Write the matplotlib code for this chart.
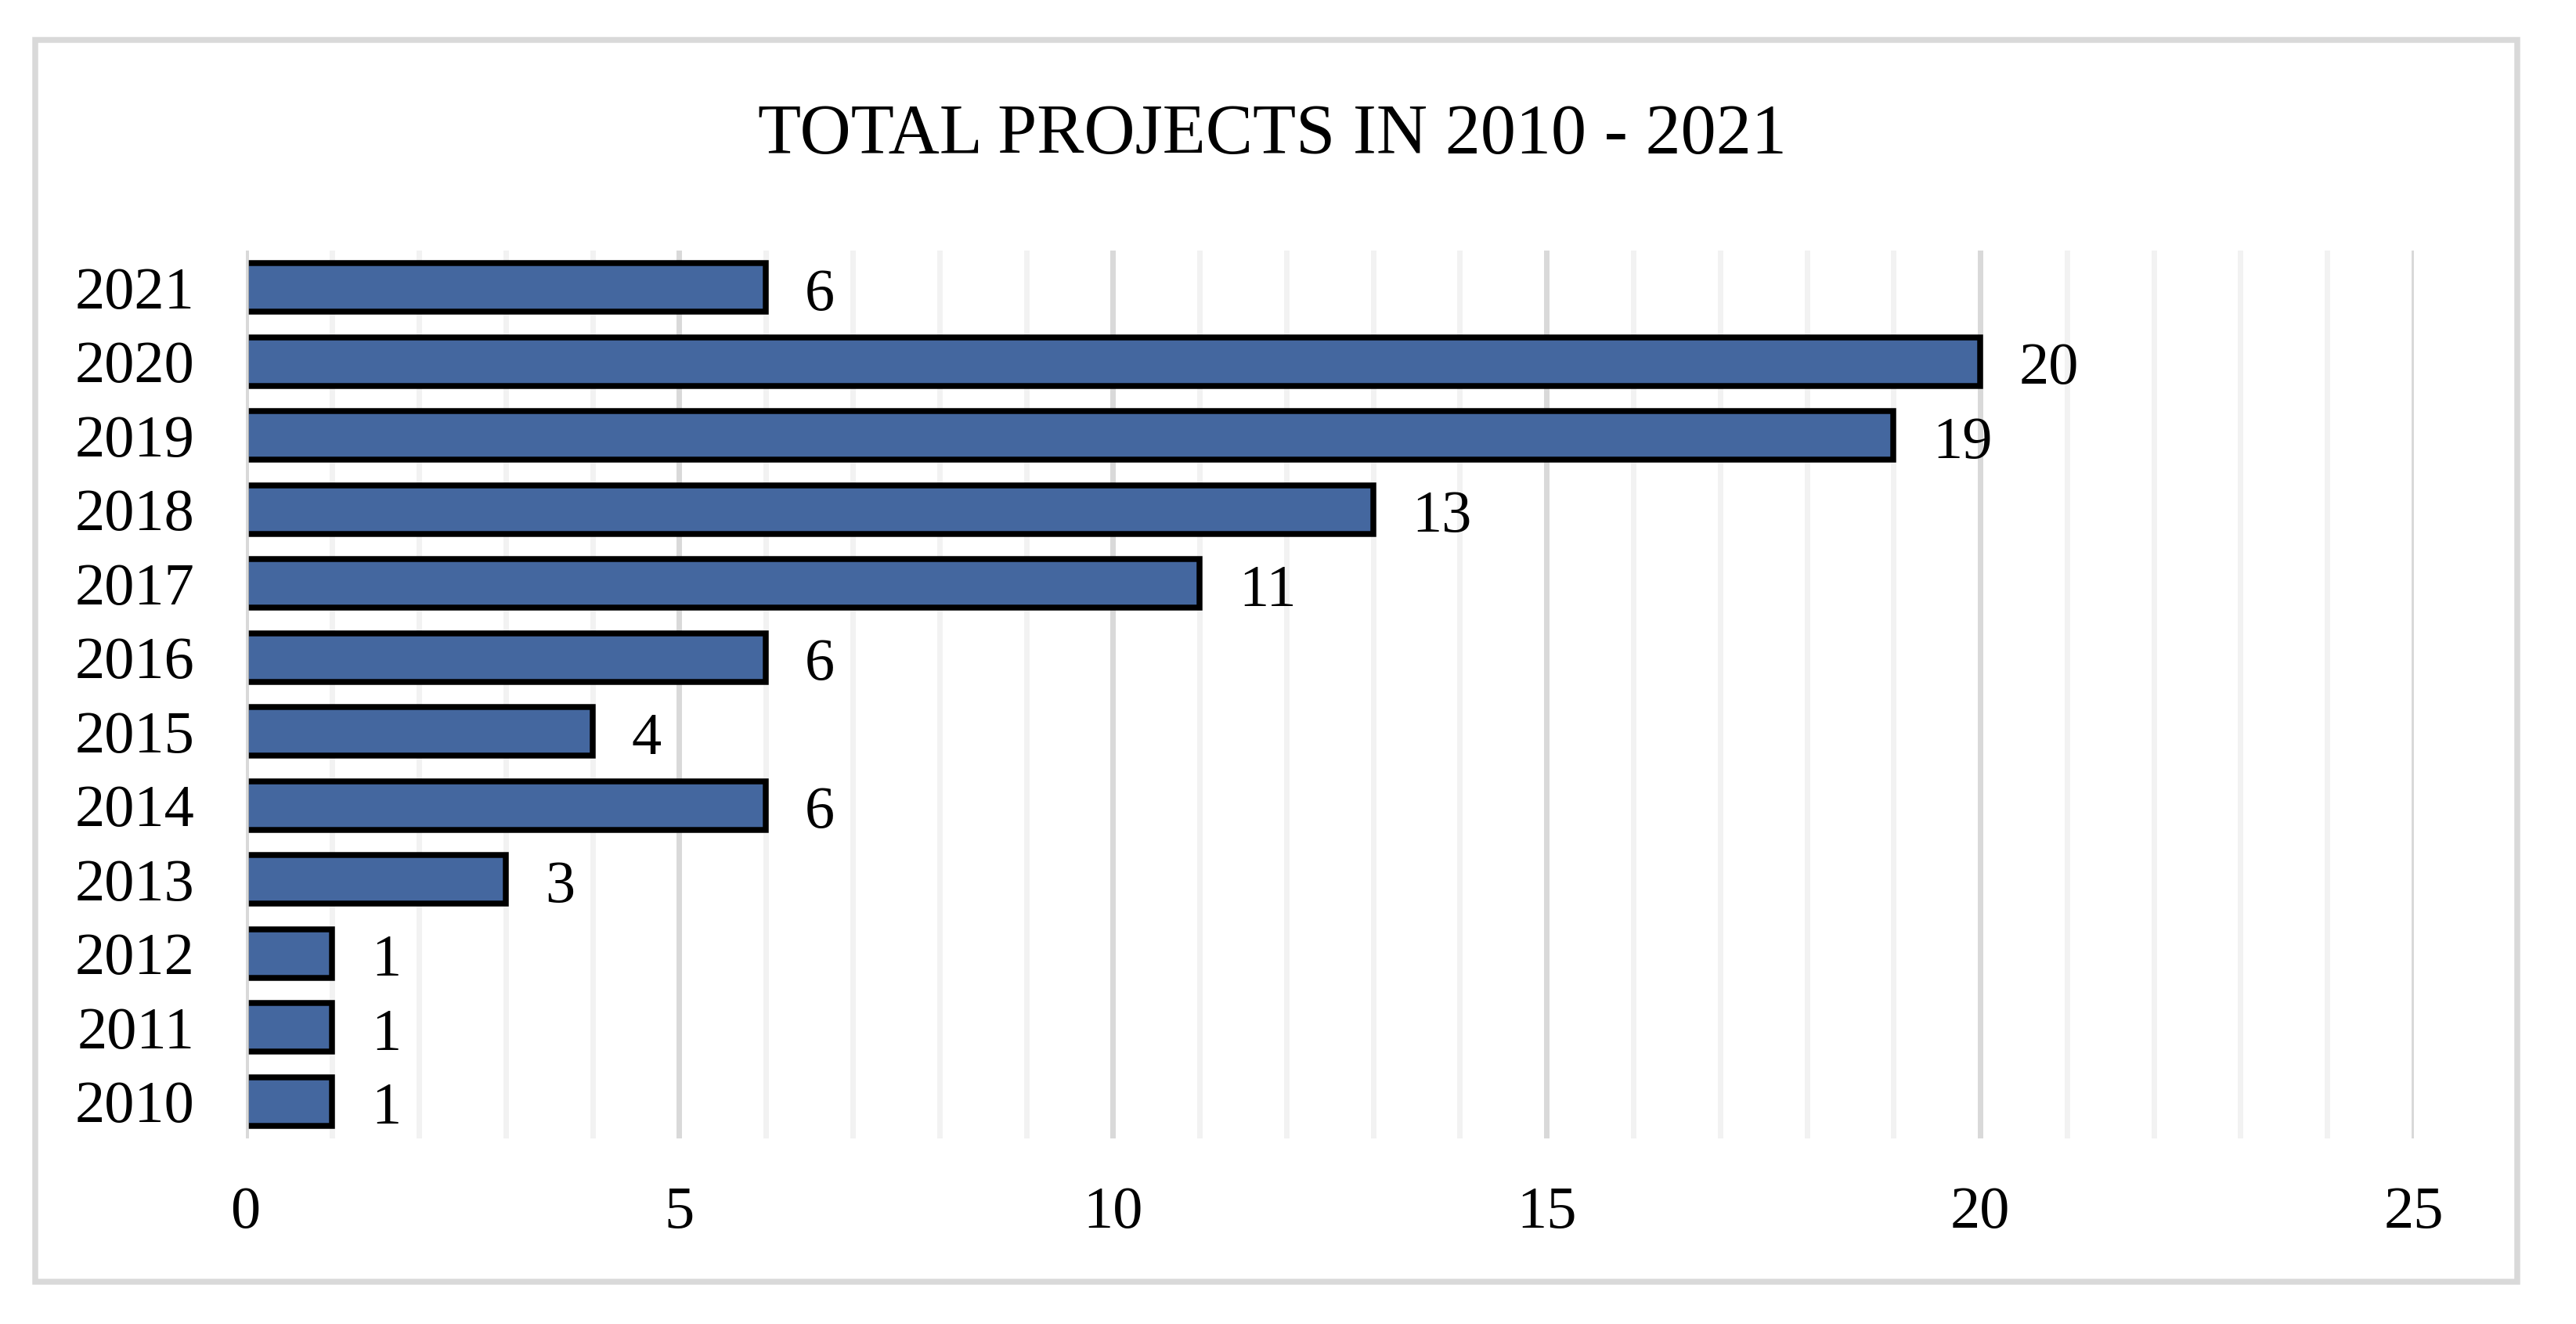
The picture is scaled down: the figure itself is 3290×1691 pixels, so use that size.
import matplotlib
matplotlib.use("Agg")
import matplotlib.pyplot as plt
from matplotlib.patches import Rectangle
from matplotlib.ticker import MultipleLocator

years = ["2010", "2011", "2012", "2013", "2014", "2015", "2016", "2017", "2018", "2019", "2020", "2021"]
projects = [1, 1, 1, 3, 6, 4, 6, 11, 13, 19, 20, 6]
title = "TOTAL PROJECTS IN 2010 - 2021"
xticks = [0, 5, 10, 15, 20, 25]

W, H, DPI = 3290, 1691, 100
plt.rcParams['font.family'] = ['Liberation Serif', 'DejaVu Serif']

fig = plt.figure(figsize=(W / DPI, H / DPI), dpi=DPI)
fig.patch.set_facecolor('white')

def px(v):  # pixels -> points
    return v * 72.0 / DPI

# outer border
fig.patches.append(Rectangle((45 / W, 1 - 1636.5 / H), (3214.5 - 45) / W, (1636.5 - 50.5) / H,
                             transform=fig.transFigure, fill=False,
                             edgecolor='#D9D9D9', linewidth=px(7.5), zorder=0))

left, right = 313.5 / W, 3083 / W
top, bottom = 1 - 320 / H, 1 - 1454 / H
ax = fig.add_axes([left, bottom, right - left, top - bottom])

ypos = list(range(len(years)))
ax.barh(ypos, projects, height=0.66, color='#44679F', edgecolor='black',
        linewidth=px(7.5), zorder=3)

ax.set_xlim(0, 25)
ax.set_ylim(-0.5, len(years) - 0.5)
ax.xaxis.set_major_locator(MultipleLocator(5))
ax.xaxis.set_minor_locator(MultipleLocator(1))
ax.set_xticks(xticks)
ax.set_xticklabels([str(t) for t in xticks])
ax.set_yticks(ypos)
ax.set_yticklabels(years)

ax.grid(axis='x', which='minor', color='#F2F2F2', linewidth=px(7), zorder=0)
ax.grid(axis='x', which='major', color='#D9D9D9', linewidth=px(7), zorder=1)
ax.set_axisbelow(True)
ax.axvline(0, color='#D9D9D9', linewidth=px(7.5), zorder=5)

for s in ax.spines.values():
    s.set_visible(False)
ax.tick_params(axis='both', which='both', length=0)
ax.tick_params(axis='x', labelsize=55, pad=px(61))
ax.tick_params(axis='y', labelsize=55, pad=px(65))

for y, v in zip(ypos, projects):
    ax.annotate(str(v), xy=(v, y), xytext=(px(50), px(-28.5)), textcoords='offset points',
                ha='left', va='baseline', fontsize=55, color='black', zorder=6)

fig.text(1625 / W, 1 - 196 / H, title, ha='center', va='baseline', fontsize=65, color='black')

fig.savefig('out.png', dpi=DPI, facecolor='white')
